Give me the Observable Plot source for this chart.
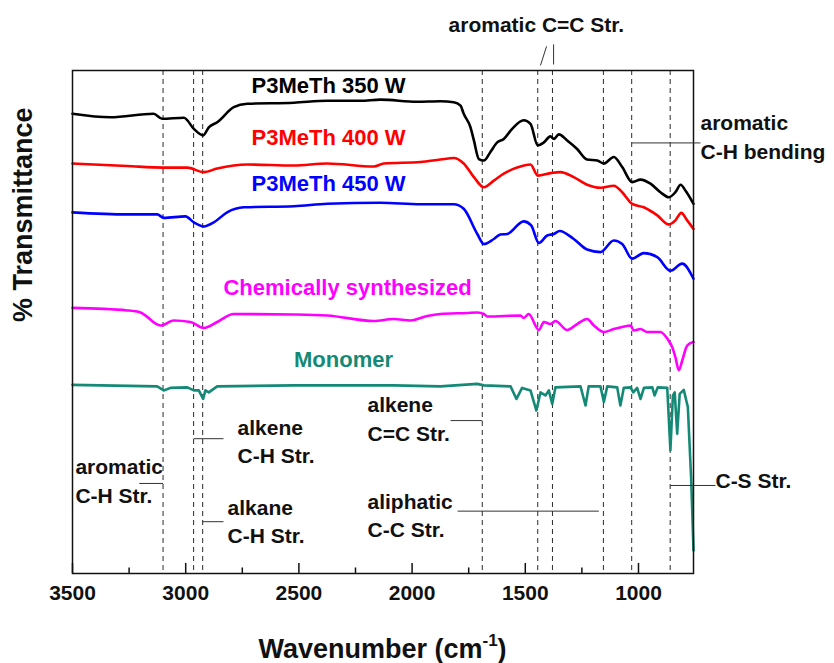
<!DOCTYPE html>
<html><head><meta charset="utf-8">
<script src="https://cdn.jsdelivr.net/npm/d3@7"></script>
<script src="https://cdn.jsdelivr.net/npm/@observablehq/plot@0.6"></script>
<style>
html,body{margin:0;padding:0;background:#fff;}
#chart svg{display:block;overflow:visible;}
</style>
</head><body><div id="chart"></div>
<script>
// ---- Data (wavenumber cm^-1, transmittance in arbitrary offset units) ----
const wavenumberTicks = [3500, 3000, 2500, 2000, 1500, 1000];
const minorTicks = [3250, 2750, 2250, 1750, 1250];
const bandPositions = [3100, 2965, 2925, 1690, 1445, 1380, 1155, 1030, 860];

const seriesNames = ["P3MeTh 350 W", "P3MeTh 400 W", "P3MeTh 450 W", "Chemically synthesized", "Monomer"];

const p350W = [[3500,91.4],[3332,90.7],[3142,91.4],[3104,90.4],[3008,90.6],[2964,88.4],[2923,87.1],[2898,88.7],[2861,89.7],[2788,92.7],[2728,93.4],[2522,93.6],[2375,94.0],[2228,94.0],[2140,94.2],[1978,93.8],[1875,93.9],[1816,93.7],[1786,93.0],[1772,91.4],[1742,88.7],[1727,86.1],[1705,82.4],[1683,82.1],[1654,83.8],[1624,85.7],[1595,86.4],[1558,88.4],[1507,90.1],[1477,89.4],[1445,85.1],[1418,85.7],[1389,86.9],[1374,86.4],[1352,87.3],[1315,86.1],[1271,84.4],[1227,82.3],[1182,82.1],[1153,81.5],[1109,82.8],[1072,80.8],[1028,77.8],[991,78.3],[947,77.5],[903,75.8],[866,74.8],[837,75.8],[814,77.3],[792,76.1],[757,73.5]];

const p400W = [[3500,81.5],[3258,81.0],[3097,80.7],[2993,80.7],[2920,79.8],[2861,80.5],[2728,81.3],[2522,81.1],[2375,81.5],[2169,80.9],[2125,81.5],[1963,81.8],[1875,82.3],[1816,82.6],[1772,81.5],[1727,78.8],[1683,76.8],[1639,78.1],[1595,79.5],[1536,80.7],[1477,81.3],[1445,79.1],[1389,79.6],[1345,79.8],[1286,78.8],[1227,77.3],[1168,76.7],[1109,77.1],[1072,75.8],[1028,73.5],[977,72.8],[917,71.2],[866,69.4],[837,70.2],[811,71.7],[785,70.2],[757,68.5]];

const p450W = [[3500,71.8],[3258,71.4],[3126,71.4],[3097,70.7],[3001,71.0],[2964,69.8],[2920,69.0],[2876,69.8],[2817,71.8],[2743,72.8],[2522,73.0],[2375,73.5],[2140,73.7],[1963,73.4],[1816,73.4],[1772,72.5],[1712,67.5],[1683,65.5],[1639,66.5],[1610,67.4],[1580,67.5],[1507,70.0],[1474,69.2],[1440,65.7],[1403,67.2],[1374,67.5],[1348,68.1],[1286,66.5],[1227,64.4],[1168,63.9],[1109,66.2],[1072,65.5],[1028,62.6],[977,63.7],[917,62.9],[859,60.2],[807,61.6],[757,58.6]];

const chemical = [[3500,52.8],[3258,52.3],[3200,51.9],[3111,49.3],[3053,50.3],[2979,50.0],[2920,48.8],[2861,50.0],[2788,51.6],[2522,51.5],[2375,51.3],[2169,50.2],[2081,50.6],[2007,50.3],[1933,51.2],[1875,51.6],[1757,51.8],[1712,51.9],[1683,51.6],[1668,51.1],[1521,51.3],[1507,50.8],[1485,51.6],[1440,48.4],[1418,50.0],[1389,49.6],[1367,50.2],[1315,48.4],[1271,49.6],[1227,50.6],[1197,49.3],[1153,48.0],[1109,48.6],[1072,49.0],[1035,49.3],[1021,48.3],[991,48.6],[962,48.0],[903,48.0],[873,46.7],[851,45.0],[837,43.0],[822,40.4],[807,42.3],[785,45.3],[757,46.0]];

const monomer = [[3500,37.5],[3126,37.2],[3097,36.4],[3067,36.9],[2993,37.0],[2964,36.4],[2942,36.4],[2923,34.7],[2913,36.4],[2898,36.0],[2861,37.2],[2522,37.4],[2081,37.4],[1875,37.2],[1712,37.7],[1683,37.4],[1565,37.2],[1539,34.7],[1514,36.9],[1477,36.4],[1451,32.4],[1433,36.0],[1411,35.4],[1396,36.4],[1381,33.7],[1367,37.0],[1256,37.2],[1234,33.4],[1220,37.2],[1168,37.2],[1153,34.1],[1138,37.2],[1094,37.0],[1080,33.4],[1065,36.9],[1035,37.0],[1023,36.0],[1006,36.9],[991,34.7],[976,36.9],[939,37.0],[929,35.4],[915,37.0],[873,36.9],[859,24.5],[848,35.4],[840,36.0],[829,27.8],[818,35.7],[800,36.5],[782,33.1],[767,18.5],[757,4.6]];

const bandLabels = ["aromatic C=C Str.", "aromatic\nC-H bending", "alkene\nC-H Str.", "aromatic\nC-H Str.", "alkane\nC-H Str.", "alkene\nC=C Str.", "aliphatic\nC-C Str.", "C-S Str."];

// ---- Presentation config ----
const seriesData = [p350W, p400W, p450W, chemical, monomer];
const seriesColors = ["#000000", "#ff0000", "#0000ff", "#ff00ff", "#148a76"];
const seriesCurves = ["monotone-x", "monotone-x", "monotone-x", "monotone-x", "linear"];
const seriesLabelAt = [[2369, 95.6], [2369, 85.1], [2369, 76.1], [2285, 55.3], [2303, 41.0]];
const bandLabelAt = [[1839, 107.6], [726, 82.5], [2771, 21.9], [3487, 14.1], [2815, 6.0], [2197, 26.4], [2197, 7.2], [660, 16.9]];
const leaders = [
  [3205, 17.9, 3100, 17.9], [2965, 26.8, 2833, 26.8], [2925, 10.3, 2833, 10.3],
  [1830, 30.4, 1690, 30.4], [1799, 12.4, 1175, 12.4], [860, 17.5, 660, 17.5],
  [1030, 85.6, 726, 85.6], [1433, 101.0, 1406, 104.8], [1375, 101.2, 1375, 105.2]
];

const font = "'Liberation Sans', Arial, Helvetica, sans-serif";

const marks = [
  Plot.ruleX(bandPositions, {x: d => d, stroke: "#2a2a2a", strokeWidth: 1, strokeDasharray: "5,4"}),
  ...seriesData.map((s, i) => Plot.line(s, {x: d => d[0], y: d => d[1], stroke: seriesColors[i], strokeWidth: 2.6, strokeLinejoin: "round", curve: seriesCurves[i]})),
  Plot.frame({stroke: "#111", strokeWidth: 1.5}),
  Plot.ruleX(wavenumberTicks, {x: d => d, y1: 0, y2: 2, stroke: "#111", strokeWidth: 1.5}),
  Plot.ruleX(minorTicks, {x: d => d, y1: 0, y2: 1.1, stroke: "#111", strokeWidth: 1.5}),
  Plot.axisX(wavenumberTicks, {tickSize: 0, tickPadding: 12, tickFormat: d => String(d), fontSize: 21, fontWeight: "bold", fill: "#111", label: null}),
  Plot.link(leaders, {x1: d => d[0], y1: d => d[1], x2: d => d[2], y2: d => d[3], stroke: "#333", strokeWidth: 1}),
  ...seriesNames.map((name, i) => Plot.text([name], {x: seriesLabelAt[i][0], y: seriesLabelAt[i][1], text: d => d, fill: seriesColors[i], fontSize: 22, fontWeight: "bold", textAnchor: "middle", lineAnchor: "bottom"})),
  Plot.text(bandLabels, {x: (d, i) => bandLabelAt[i][0], y: (d, i) => bandLabelAt[i][1], text: d => d, fill: "#111", fontSize: 21, fontWeight: "bold", textAnchor: "start", lineAnchor: "bottom", lineHeight: 1.35}),
  Plot.text(["% Transmittance"], {frameAnchor: "left", dx: -49, rotate: -90, fontSize: 27, fontWeight: "bold", fill: "#111"})
];

const chart = Plot.plot({
  width: 834, height: 663,
  marginLeft: 72, marginRight: 141, marginTop: 70, marginBottom: 90,
  style: {fontFamily: font, background: "white", overflow: "visible"},
  x: {domain: [3500, 757], axis: null},
  y: {domain: [0, 100], axis: null},
  marks
});

// x-axis title with superscript
const xr = chart.scale("x").range;
const t = d3.select(chart).append("text")
  .attr("x", (xr[0] + xr[1]) / 2)
  .attr("y", 663 - 5)
  .attr("text-anchor", "middle")
  .attr("font-family", font)
  .attr("font-size", 27)
  .attr("font-weight", "bold")
  .attr("fill", "#111");
t.append("tspan").text("Wavenumber (cm");
t.append("tspan").attr("dy", -12).attr("font-size", 17).text("-1");
t.append("tspan").attr("dy", 12).text(")");

document.getElementById("chart").append(chart);
</script>
</body></html>
